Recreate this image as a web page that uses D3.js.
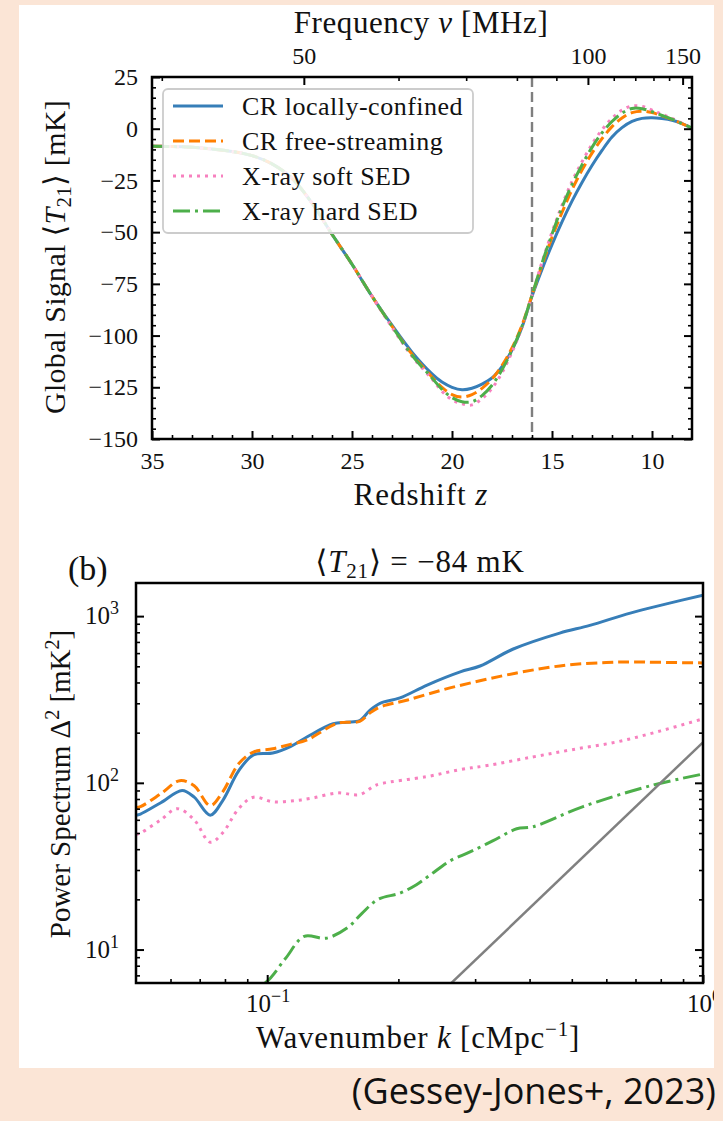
<!DOCTYPE html>
<html>
<head>
<meta charset="utf-8">
<script src="https://cdn.jsdelivr.net/npm/d3@7"></script>
<style>
  body { margin: 0; background: #fbe5d6; }
  text { font-family: "Liberation Serif", "DejaVu Serif", serif; fill: #111; }
</style>
</head>
<body>
<div id="chart"></div>
<script>
// ---------- data: global signal (top panel) ----------
const redshift = [35, 34, 33, 32, 31, 30, 29, 28, 27, 26, 25, 24, 23, 22, 21, 20.5, 20, 19.5, 19, 18.5, 18, 17.5, 17, 16.5, 16, 15.5, 15, 14.5, 14, 13.5, 13, 12.5, 12, 11.5, 11, 10.5, 10, 9.5, 9, 8.5, 8];
const crLocal = [-8.5, -8.6, -9, -9.8, -11, -13, -17, -24, -36, -51, -65.5, -81, -95, -108, -118.5, -122.5, -125, -126.2, -125.5, -123.5, -120.5, -115, -107, -96, -81, -68, -56, -45, -35, -26, -17.8, -10.5, -4, 0.5, 3.5, 5, 5.3, 4.9, 4.1, 2.5, 0.3];
const crFree = [-8.5, -8.6, -9, -9.8, -11, -13, -17, -24, -36, -51, -65.5, -81, -95.5, -109, -120, -125, -128.5, -129.7, -128.5, -125.5, -121, -114.5, -106, -95, -80.5, -66, -52.5, -40.5, -29.5, -20, -11.8, -4.8, 1, 5.2, 7.8, 8.5, 7.8, 6.2, 4.5, 2.5, 0.3];
const xraySoft = [-8.5, -8.6, -9, -9.8, -11, -13, -17, -24, -36, -51, -65.5, -81, -96, -110, -121, -127, -131, -133, -133.5, -130.5, -125.5, -118, -108, -96, -80.5, -64.5, -50, -37, -25.5, -16, -7.5, -0.5, 5, 9, 11, 10.8, 9, 7, 5, 2.7, 0.3];
const xrayHard = [-8.5, -8.6, -9, -9.8, -11, -13, -17, -24, -36, -51, -65.5, -81, -95.5, -109.5, -120.5, -126, -130, -132, -132, -129, -124, -116.5, -107, -95.5, -80.5, -65, -51, -38, -27, -17.5, -9, -2, 3.5, 7.5, 9.8, 9.7, 8.2, 6.4, 4.6, 2.5, 0.3];
const zMark = 16;
const yTicksTop = [25, 0, -25, -50, -75, -100, -125, -150];
const zTicks = [35, 30, 25, 20, 15, 10];
const nuMajor = [50, 100, 150];
const nuMinor = [40, 60, 70, 80, 90, 110, 120, 130, 140];
const legendNames = ["CR locally-confined", "CR free-streaming", "X-ray soft SED", "X-ray hard SED"];

// ---------- data: power spectrum (bottom panel) ----------
const kBlue = [0.05, 0.0512, 0.057, 0.0638, 0.068, 0.074, 0.079, 0.086, 0.093, 0.103, 0.113, 0.1236, 0.1417, 0.152, 0.163, 0.172, 0.1815, 0.2017, 0.2328, 0.2773, 0.308, 0.367, 0.469, 0.55, 0.681, 0.82, 1.0];
const pBlue = [64, 65, 76, 90, 82, 64, 78, 118, 147, 151, 165, 189, 226, 231, 236, 272, 300, 323, 386, 463, 502, 635, 791, 880, 1043, 1180, 1336];
const kOrange = [0.05, 0.0512, 0.057, 0.063, 0.068, 0.074, 0.079, 0.086, 0.093, 0.103, 0.113, 0.1236, 0.145, 0.163, 0.172, 0.1815, 0.21, 0.2626, 0.3737, 0.488, 0.6, 0.69, 0.8, 1.0];
const pOrange = [71, 72, 86, 103, 96, 73, 88, 130, 153, 160, 170, 181, 228, 234, 262, 285, 314, 371, 456, 509, 527, 531, 528, 524];
const kPink = [0.05, 0.0512, 0.057, 0.0622, 0.068, 0.074, 0.079, 0.086, 0.093, 0.103, 0.115, 0.127, 0.145, 0.163, 0.175, 0.1815, 0.2328, 0.2773, 0.32, 0.4067, 0.5, 0.6343, 0.8, 1.0];
const pPink = [49, 50, 60, 70, 60, 44, 50, 70, 82, 77, 78, 81, 87, 85, 95, 98.6, 109, 120, 127, 143, 158, 176, 205, 242];
const kGreen = [0.085, 0.093, 0.0995, 0.11, 0.1216, 0.1366, 0.1533, 0.165, 0.1797, 0.2017, 0.22, 0.2365, 0.2626, 0.292, 0.33, 0.3737, 0.4067, 0.5306, 0.757, 1.0];
const pGreen = [5.6, 6.0, 6.4, 8.8, 12, 11.7, 13.6, 16.5, 20, 21.8, 24.5, 28, 34, 38.5, 45, 53, 54.5, 72, 96, 113];
const kGray = [0.2, 1.0];
const pGray = [3.13, 175];
const pTickDecades = [1, 2, 3];
const kTickDecades = [-1, 0];

const colors = ["#377eb8", "#ff7f00", "#f781bf", "#4daf4a"];
const dashes = ["none", "11,5", "3,5", "17,5,3,5"];

const W = 723, H = 1121;
const svg = d3.select("#chart").append("svg")
    .attr("width", W).attr("height", H);

svg.append("rect").attr("width", W).attr("height", H).attr("fill", "#fbe5d6");
svg.append("rect").attr("x", 19).attr("y", 5).attr("width", 695).attr("height", 1063).attr("fill", "#fff");

// ================= top panel =================
const box1 = {left: 152, right: 692, top: 77, bottom: 439};
const x1 = d3.scaleLinear().domain([35, 8]).range([box1.left, box1.right]);
const y1 = d3.scaleLinear().domain([-150, 25]).range([box1.bottom, box1.top]);
const zOfNu = nu => 1420.4 / nu - 1;

svg.append("clipPath").attr("id", "clip1").append("rect")
    .attr("x", box1.left).attr("y", box1.top)
    .attr("width", box1.right - box1.left).attr("height", box1.bottom - box1.top);

const g1 = svg.append("g");

// vertical dashed marker
g1.append("line")
    .attr("x1", x1(zMark)).attr("x2", x1(zMark))
    .attr("y1", box1.top).attr("y2", box1.bottom)
    .attr("stroke", "#7f7f7f").attr("stroke-width", 2.4)
    .attr("stroke-dasharray", "10,5");

const line1 = d3.line()
    .x((d, i) => x1(redshift[i]))
    .y(d => y1(d))
    .curve(d3.curveCatmullRom);

const topSeries = [crLocal, crFree, xraySoft, xrayHard];
const lines1 = g1.append("g").attr("clip-path", "url(#clip1)");
topSeries.forEach((vals, i) => {
    lines1.append("path")
        .attr("d", line1(vals))
        .attr("fill", "none")
        .attr("stroke", colors[i])
        .attr("stroke-width", 3)
        .attr("stroke-dasharray", dashes[i]);
});

// ticks (inward)
function styleAxis(sel) {
    sel.select(".domain").remove();
    sel.selectAll(".tick line").attr("stroke", "#000");
    sel.selectAll("text")
        .style("font-family", '"Liberation Serif", "DejaVu Serif", serif')
        .style("font-size", "24px")
        .attr("fill", "#111");
}

const zMinor = d3.range(9, 35).filter(z => z % 5 !== 0);
const yMinorTop = d3.range(-145, 25, 5).filter(v => v % 25 !== 0);

g1.append("g").attr("transform", `translate(0,${box1.bottom})`)
    .call(d3.axisBottom(x1).tickValues(zTicks).tickSize(-8).tickPadding(13).tickFormat(d3.format("d")))
    .call(styleAxis).selectAll(".tick line").attr("stroke-width", 2);
g1.append("g").attr("transform", `translate(0,${box1.bottom})`)
    .call(d3.axisBottom(x1).tickValues(zMinor).tickSize(-4).tickFormat(""))
    .call(styleAxis).selectAll(".tick line").attr("stroke-width", 1.6);

g1.append("g").attr("transform", `translate(0,${box1.top})`)
    .call(d3.axisTop(x1).tickValues(nuMajor.map(zOfNu)).tickSize(-8).tickPadding(13)
        .tickFormat((d, i) => nuMajor[i]))
    .call(styleAxis).selectAll(".tick line").attr("stroke-width", 2);
g1.append("g").attr("transform", `translate(0,${box1.top})`)
    .call(d3.axisTop(x1).tickValues(nuMinor.map(zOfNu)).tickSize(-4).tickFormat(""))
    .call(styleAxis).selectAll(".tick line").attr("stroke-width", 1.6);

g1.append("g").attr("transform", `translate(${box1.left},0)`)
    .call(d3.axisLeft(y1).tickValues(yTicksTop).tickSize(-8).tickPadding(14))
    .call(styleAxis).selectAll(".tick line").attr("stroke-width", 2);
g1.append("g").attr("transform", `translate(${box1.left},0)`)
    .call(d3.axisLeft(y1).tickValues(yMinorTop).tickSize(-4).tickFormat(""))
    .call(styleAxis).selectAll(".tick line").attr("stroke-width", 1.6);
g1.append("g").attr("transform", `translate(${box1.right},0)`)
    .call(d3.axisRight(y1).tickValues(yTicksTop).tickSize(-8).tickFormat(""))
    .call(styleAxis).selectAll(".tick line").attr("stroke-width", 2);
g1.append("g").attr("transform", `translate(${box1.right},0)`)
    .call(d3.axisRight(y1).tickValues(yMinorTop).tickSize(-4).tickFormat(""))
    .call(styleAxis).selectAll(".tick line").attr("stroke-width", 1.6);

g1.append("rect")
    .attr("x", box1.left).attr("y", box1.top)
    .attr("width", box1.right - box1.left).attr("height", box1.bottom - box1.top)
    .attr("fill", "none").attr("stroke", "#000").attr("stroke-width", 2.5);

// legend
const leg = g1.append("g").attr("transform", "translate(163,89)");
leg.append("rect").attr("width", 310).attr("height", 144).attr("rx", 5)
    .attr("fill", "#fff").attr("fill-opacity", 0.85)
    .attr("stroke", "#cccccc").attr("stroke-width", 1.8);
legendNames.forEach((name, i) => {
    const yy = 17 + i * 35;
    leg.append("line").attr("x1", 10).attr("x2", 60).attr("y1", yy).attr("y2", yy)
        .attr("stroke", colors[i]).attr("stroke-width", 3)
        .attr("stroke-dasharray", dashes[i]);
    leg.append("text").attr("x", 79).attr("y", yy + 9)
        .style("font-size", "26px").style("letter-spacing", "0.5px").text(name);
});

// axis titles
svg.append("text").attr("x", 421).attr("y", 33).attr("text-anchor", "middle")
    .style("font-size", "31px").style("letter-spacing", "0.6px")
    .call(t => {
        t.append("tspan").text("Frequency ");
        t.append("tspan").style("font-style", "italic").text("ν");
        t.append("tspan").text(" [MHz]");
    });
svg.append("text").attr("x", 421).attr("y", 505).attr("text-anchor", "middle")
    .style("font-size", "31px").style("letter-spacing", "1px")
    .call(t => {
        t.append("tspan").text("Redshift ");
        t.append("tspan").style("font-style", "italic").text("z");
    });
svg.append("text").attr("transform", "translate(65,257) rotate(-90)").attr("text-anchor", "middle")
    .style("font-size", "30px").style("letter-spacing", "0.3px")
    .call(t => {
        t.append("tspan").text("Global Signal ⟨");
        t.append("tspan").style("font-style", "italic").text("T");
        t.append("tspan").attr("dy", 6).style("font-size", "21px").text("21");
        t.append("tspan").attr("dy", -6).text("⟩ [mK]");
    });

// ================= bottom panel =================
const box2 = {left: 136, right: 703, top: 583, bottom: 983};
const x2 = d3.scaleLog().domain([0.05, 1]).range([box2.left, box2.right]);
const y2 = d3.scaleLog().domain([6.3, 1580]).range([box2.bottom, box2.top]);

svg.append("clipPath").attr("id", "clip2").append("rect")
    .attr("x", box2.left).attr("y", box2.top)
    .attr("width", box2.right - box2.left).attr("height", box2.bottom - box2.top);

const g2 = svg.append("g");
const lines2 = g2.append("g").attr("clip-path", "url(#clip2)");

const line2 = d3.line().x(d => x2(d[0])).y(d => y2(d[1])).curve(d3.curveCatmullRom);
const botSeries = [[kBlue, pBlue], [kOrange, pOrange], [kPink, pPink], [kGreen, pGreen]];
botSeries.forEach(([ks, ps], i) => {
    lines2.append("path")
        .attr("d", line2(ks.map((k, j) => [k, ps[j]])))
        .attr("fill", "none")
        .attr("stroke", colors[i])
        .attr("stroke-width", 3)
        .attr("stroke-dasharray", dashes[i]);
});
lines2.append("path")
    .attr("d", d3.line().x(d => x2(d[0])).y(d => y2(d[1]))(kGray.map((k, j) => [k, pGray[j]])))
    .attr("fill", "none").attr("stroke", "#808080").attr("stroke-width", 2.5);

// log ticks
const kMajor = kTickDecades.map(e => Math.pow(10, e));
const kMinor = [0.06, 0.07, 0.08, 0.09, 0.2, 0.3, 0.4, 0.5, 0.6, 0.7, 0.8, 0.9];
const pMajor = pTickDecades.map(e => Math.pow(10, e));
const pMinor = [7, 8, 9, 20, 30, 40, 50, 60, 70, 80, 90, 200, 300, 400, 500, 600, 700, 800, 900];

g2.append("g").attr("transform", `translate(0,${box2.bottom})`)
    .call(d3.axisBottom(x2).tickValues(kMajor).tickSize(-8).tickFormat(""))
    .call(styleAxis).selectAll(".tick line").attr("stroke-width", 2);
g2.append("g").attr("transform", `translate(0,${box2.bottom})`)
    .call(d3.axisBottom(x2).tickValues(kMinor).tickSize(-4).tickFormat(""))
    .call(styleAxis).selectAll(".tick line").attr("stroke-width", 1.6);
g2.append("g").attr("transform", `translate(${box2.left},0)`)
    .call(d3.axisLeft(y2).tickValues(pMajor).tickSize(-8).tickFormat(""))
    .call(styleAxis).selectAll(".tick line").attr("stroke-width", 2);
g2.append("g").attr("transform", `translate(${box2.left},0)`)
    .call(d3.axisLeft(y2).tickValues(pMinor).tickSize(-4).tickFormat(""))
    .call(styleAxis).selectAll(".tick line").attr("stroke-width", 1.6);
g2.append("g").attr("transform", `translate(${box2.right},0)`)
    .call(d3.axisRight(y2).tickValues(pMajor).tickSize(-8).tickFormat(""))
    .call(styleAxis).selectAll(".tick line").attr("stroke-width", 2);
g2.append("g").attr("transform", `translate(${box2.right},0)`)
    .call(d3.axisRight(y2).tickValues(pMinor).tickSize(-4).tickFormat(""))
    .call(styleAxis).selectAll(".tick line").attr("stroke-width", 1.6);

g2.append("rect")
    .attr("x", box2.left).attr("y", box2.top)
    .attr("width", box2.right - box2.left).attr("height", box2.bottom - box2.top)
    .attr("fill", "none").attr("stroke", "#000").attr("stroke-width", 2.5);

// power-of-ten tick labels
function powLabel(sel, exp) {
    sel.append("tspan").text("10");
    sel.append("tspan").attr("dy", -10).style("font-size", "18px")
        .text(exp < 0 ? "−" + Math.abs(exp) : exp);
}
pTickDecades.forEach(e => {
    svg.append("text").attr("x", 119).attr("y", y2(Math.pow(10, e)) + 8)
        .attr("text-anchor", "end").style("font-size", "25px")
        .call(powLabel, e);
});
svg.append("clipPath").attr("id", "clipCard").append("rect")
    .attr("x", 19).attr("y", 5).attr("width", 695).attr("height", 1063);
kTickDecades.forEach(e => {
    svg.append("text").attr("x", x2(Math.pow(10, e)) + 1).attr("y", 1012)
        .attr("text-anchor", "middle").style("font-size", "25px")
        .attr("clip-path", "url(#clipCard)")
        .call(powLabel, e);
});

// titles
svg.append("text").attr("x", 68).attr("y", 580).style("font-size", "34px").text("(b)");
svg.append("text").attr("x", 420).attr("y", 572).attr("text-anchor", "middle")
    .style("font-size", "31px").style("letter-spacing", "0.8px")
    .call(t => {
        t.append("tspan").text("⟨");
        t.append("tspan").style("font-style", "italic").text("T");
        t.append("tspan").attr("dy", 6).style("font-size", "21px").text("21");
        t.append("tspan").attr("dy", -6).text("⟩ = −84 mK");
    });
svg.append("text").attr("x", 418).attr("y", 1048).attr("text-anchor", "middle")
    .style("font-size", "31px").style("letter-spacing", "0.8px")
    .call(t => {
        t.append("tspan").text("Wavenumber ");
        t.append("tspan").style("font-style", "italic").text("k");
        t.append("tspan").text(" [cMpc");
        t.append("tspan").attr("dy", -12).style("font-size", "21px").text("−1");
        t.append("tspan").attr("dy", 12).text("]");
    });
svg.append("text").attr("transform", "translate(70,784) rotate(-90)").attr("text-anchor", "middle")
    .style("font-size", "29px")
    .call(t => {
        t.append("tspan").text("Power Spectrum Δ");
        t.append("tspan").attr("dy", -11).style("font-size", "20px").text("2");
        t.append("tspan").attr("dy", 11).text(" [mK");
        t.append("tspan").attr("dy", -11).style("font-size", "20px").text("2");
        t.append("tspan").attr("dy", 11).text("]");
    });

// citation
svg.append("text").attr("x", 716).attr("y", 1104).attr("text-anchor", "end")
    .style("font-family", '"Open Sans", "Noto Sans", sans-serif')
    .style("font-size", "36px").attr("fill", "#000")
    .text("(Gessey-Jones+, 2023)");
</script>
</body>
</html>
